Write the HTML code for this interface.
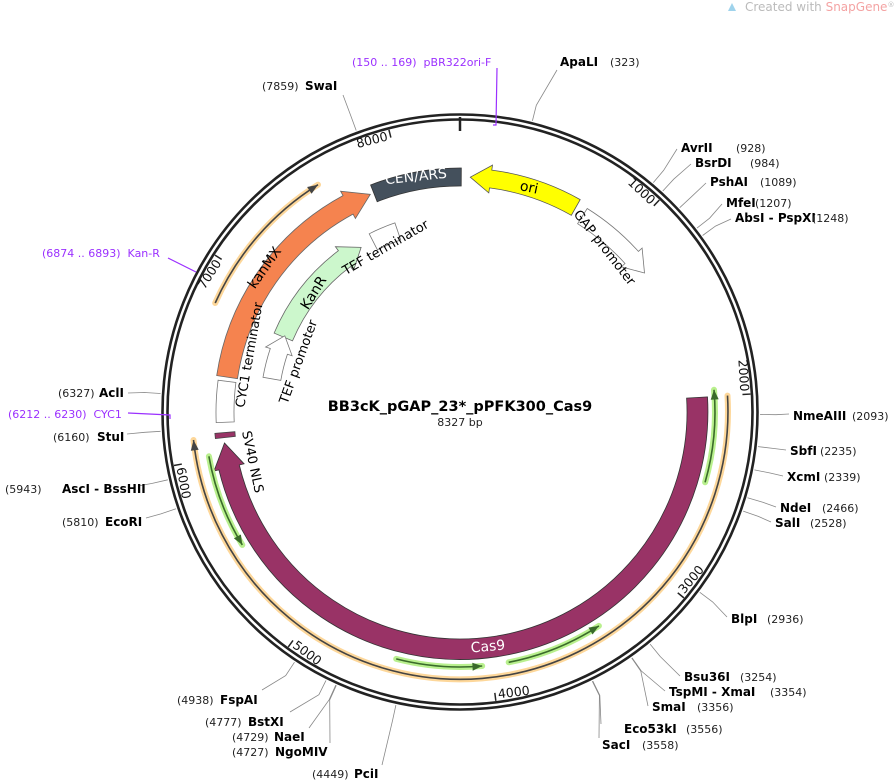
<!DOCTYPE html>
<html><head><meta charset="utf-8">
<style>
html,body{margin:0;padding:0;background:#fff;}
svg{display:block;font-family:"DejaVu Sans","Liberation Sans",sans-serif;}
text{white-space:pre}
.b{font-weight:bold;font-size:12px;fill:#000}
.n{font-size:11px;fill:#222}
.p{font-size:11px;fill:#9b30ff}
</style></head>
<body>
<svg id="s" width="896" height="783" viewBox="0 0 896 783" xmlns="http://www.w3.org/2000/svg" xml:space="preserve">
<g id="g"></g>
<text x="460" y="411" text-anchor="middle" style="font-weight:bold;font-size:14.5px">BB3cK_pGAP_23*_pPFK300_Cas9</text>
<text x="460" y="426" text-anchor="middle" style="font-size:11px;fill:#222">8327 bp</text>
<text x="745" y="11" style="font-size:12px;fill:#bbb">Created with <tspan fill="#f4a3a3">SnapGene</tspan><tspan font-size="7" dy="-4">®</tspan></text>
<path d="M728,11 l4,-8 l4,8 z" fill="#9fd3ec"/>
</svg>
<script>
var NS="http://www.w3.org/2000/svg",g=document.getElementById("g");
var cx=460,cy=412,L=8327;
function P(a,r){var t=a*Math.PI/180;return [cx+r*Math.sin(t),cy-r*Math.cos(t)];}
function f(p){return p[0].toFixed(1)+","+p[1].toFixed(1);}
function el(tag,at,txt){var e=document.createElementNS(NS,tag);for(var k in at)e.setAttribute(k,at[k]);if(txt)e.textContent=txt;g.appendChild(e);return e;}
function arc(a1,a2,r){var lg=Math.abs(a2-a1)>180?1:0,sw=a2>a1?1:0;return "A"+r+","+r+" 0 "+lg+","+sw+" "+f(P(a2,r));}
function band(a1,a2,r1,r2,fill,st){el("path",{d:"M"+f(P(a1,r2))+arc(a1,a2,r2)+"L"+f(P(a2,r1))+arc(a2,a1,r1)+"Z",fill:fill,stroke:st||"#555","stroke-width":0.8});}
function arrow(a1,a2,r1,r2,fill,st,h){var d=a2>a1?1:-1,hb=a2-d*h,rm=(r1+r2)/2,w=5;
 el("path",{d:"M"+f(P(a1,r2))+arc(a1,hb,r2)+"L"+f(P(hb,r2+w))+"L"+f(P(a2,rm))+"L"+f(P(hb,r1-w))+"L"+f(P(hb,r1))+arc(hb,a1,r1)+"Z",fill:fill,stroke:st||"#555","stroke-width":0.8});}
function hl(a1,a2,r,glow,line){el("path",{d:"M"+f(P(a1,r))+arc(a1,a2,r),fill:"none",stroke:glow,"stroke-width":6,"stroke-linecap":"round"});
 el("path",{d:"M"+f(P(a1,r))+arc(a1,a2,r),fill:"none",stroke:line,"stroke-width":1.6});
 var d=a2>a1?1:-1,b=a2-d*2.2;el("path",{d:"M"+f(P(b,r+4))+"L"+f(P(a2,r))+"L"+f(P(b,r-4))+"Z",fill:line});}
el("circle",{cx:cx,cy:cy,r:297.5,fill:"none",stroke:"#222","stroke-width":2.6});
el("circle",{cx:cx,cy:cy,r:292.5,fill:"none",stroke:"#222","stroke-width":2.6});
el("line",{x1:460,y1:117,x2:460,y2:131,stroke:"#222","stroke-width":2.5});
for(var i=1;i<=8;i++){var a=i*1000/L*360,p1=P(a,291),p2=P(a,283);el("line",{x1:p1[0],y1:p1[1],x2:p2[0],y2:p2[1],stroke:"#222","stroke-width":1.5});
 var fl=a>90&&a<270,rot=fl?a-180:(a>270?a-360:a),r=fl?289:281,q=P(a,r);
 el("text",{x:q[0],y:q[1],transform:"rotate("+rot.toFixed(1)+" "+q[0].toFixed(1)+" "+q[1].toFixed(1)+")","text-anchor":fl?"start":"end","font-size":"12.5",fill:"#111",dx:fl?3:-3},String(i*1000));}
band(338.5,360.3,226,244,"#44505c","#333");
arrow(29.5,2.5,226,244,"#ffff00","#555",5);
arrow(32,53,222,240,"#fff","#777",5);
arrow(278.5,337.6,225,246,"#f5834f","#666",6);
band(267.5,277.5,226,244,"#fff","#777");
band(263.8,265,226,246,"#993366","#444");
arrow(86.5,262.5,227,248,"#993366","#333",6);
band(333,341,182,200,"#fff","#777");
arrow(293,329,182,202,"#ccf7cc","#666",6);
arrow(280,293.5,182,200,"#fff","#777",5);
hl(294,328,268,"#fdd79a","#444");
hl(86.5,264,268,"#fdd79a","#444");
hl(106,85,255,"#b9f08e","#3a6b2a");
hl(169,147,255,"#b9f08e","#3a6b2a");
hl(194.5,175,255,"#b9f08e","#3a6b2a");
hl(260,238.6,255,"#b9f08e","#3a6b2a");
function lab(t,x,y,r,c,s){el("text",{x:x,y:y,transform:"rotate("+r+" "+x+" "+y+")","text-anchor":"middle","dominant-baseline":"central","font-size":s||13,fill:c||"#000"},t);}
lab("CEN/ARS",416,177,-6,"#fff",14);lab("ori",529,188,12,"#000",14);lab("kanMX",265,268,-55,"#000",14);
lab("KanR",314,293,-58,"#000",14);lab("Cas9",488,647,-5,"#fff",14);lab("GAP promoter",604,248,52);
lab("TEF terminator",386,248,-30);lab("TEF promoter",299,362,-70);lab("CYC1 terminator",250,355,-80);lab("SV40 NLS",252,462,78);
function line(bp,x,y,col){var a=bp/L*360,p=P(a,300),q=P(a,316);el("path",{d:"M"+f(p)+"L"+f(q)+"L"+x+","+y,fill:"none",stroke:col||"#888","stroke-width":0.8});}
var R=[["ApaLI",323,560,66,"(323)",610,557,70],["AvrII",928,681,152,"(928)",736,677,149],["BsrDI",984,695,167,"(984)",750,691,164],
["PshAI",1089,710,186,"(1089)",760,706,183],["MfeI",1207,726,207,"(1207)",755,722,204],["AbsI - PspXI",1248,735,222,"(1248)",812,731,219],
["NmeAIII",2093,793,420,"(2093)",852,789,414],["SbfI",2235,790,455,"(2235)",820,786,450],["XcmI",2339,787,481,"(2339)",824,783,476],
["NdeI",2466,780,512,"(2466)",822,776,507],["SalI",2528,775,527,"(2528)",810,771,522],["BlpI",2936,731,623,"(2936)",767,727,617],
["Bsu36I",3254,684,681,"(3254)",740,680,676],["TspMI - XmaI",3354,669,696,"(3354)",770,665,691],["SmaI",3356,652,711,"(3356)",697,648,706],
["Eco53kI",3556,624,733,"(3556)",686,601,724],["SacI",3558,602,749,"(3558)",642,599,738]];
R.forEach(function(e){line(e[1],e[6],e[7]);el("text",{x:e[2],y:e[3],"class":"b"},e[0]);el("text",{x:e[5],y:e[3],"class":"n"},e[4]);});
var Lf=[["EcoRI",5810,105,526,"(5810)",62,146,518],["AscI - BssHII",5943,62,493,"(5943)",5,138,486],["StuI",6160,97,441,"(6160)",53,127,434],
["AclI",6327,99,397,"(6327)",58,128,393],["SwaI",7859,305,90,"(7859)",262,343,95],["FspAI",4938,220,704,"(4938)",177,262,690],
["BstXI",4777,248,726,"(4777)",205,290,712],["NaeI",4729,274,741,"(4729)",232,309,728],["NgoMIV",4727,275,756,"(4727)",232,330,743],
["PciI",4449,354,778,"(4449)",312,382,765]];
Lf.forEach(function(e){line(e[1],e[6],e[7]);el("text",{x:e[2],y:e[3],"class":"b"},e[0]);el("text",{x:e[5],y:e[3],"class":"n"},e[4]);});
el("path",{d:"M497,68 L496,125 L493,125",fill:"none",stroke:"#9b30ff","stroke-width":1.2});
el("text",{x:352,y:66,"class":"p"},"(150 .. 169)  pBR322ori-F");
el("path",{d:"M128,413 L170,415 L170,419",fill:"none",stroke:"#9b30ff","stroke-width":1.2});
el("text",{x:8,y:418,"class":"p"},"(6212 .. 6230)  CYC1");
el("path",{d:"M168,258 L196,272",fill:"none",stroke:"#9b30ff","stroke-width":1.2});
el("text",{x:42,y:257,"class":"p"},"(6874 .. 6893)  Kan-R");
</script>
</body></html>
